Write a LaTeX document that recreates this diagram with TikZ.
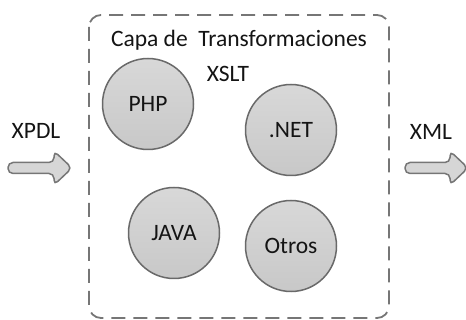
\documentclass[tikz,border=0pt]{standalone}
\usepackage{fontspec}
\setmainfont{Carlito}
\usetikzlibrary{positioning}
\definecolor{linegray}{RGB}{118,118,118}
\definecolor{circline}{RGB}{105,105,105}
\definecolor{circtop}{RGB}{216,216,216}
\definecolor{circbot}{RGB}{200,200,200}
\definecolor{arrowfill}{RGB}{214,214,214}
\definecolor{txt}{RGB}{20,20,20}
\begin{document}
\begin{tikzpicture}[x=1pt, y=-1pt,
        every node/.style={font=\fontsize{23.5}{28}\selectfont, text=txt},
        lang/.style={circle, draw=circline, line width=1.5pt, top color=circtop, bottom color=circbot, minimum size=91pt, inner sep=0pt},
        layer/.style={draw=linegray, line width=1.8pt, dash pattern=on 14pt off 8pt, rounded corners=12pt},
        blockarrow/.style={draw=linegray, line width=1.5pt, fill=arrowfill, rounded corners=5pt}]
    \useasboundingbox (0,0) rectangle (466,320);
    % capa de transformaciones
    \draw[layer] (89,15) rectangle (389,318);
    \node[anchor=base] (title) at (239,47) {Capa de~ Transformaciones};
    \node[anchor=base] (xslt) at (228,82) {XSLT};
    % lenguajes
    \node[lang] (php) at (148,104) {PHP};
    \node[lang] (net) at (291,130) {.NET};
    \node[lang] (java) at (174,233) {JAVA};
    \node[lang] (otros) at (291,246) {Otros};
    % entrada y salida
    \node (xpdl) at (36,131) {XPDL};
    \node (xml) at (431,132) {XML};
    \coordinate (in) at (8,168);
    \coordinate (out) at (405,168);
    \draw[blockarrow] (in) ++(0,-5.5) -- ++(46,0) -- ++(0,-11.5) -- ++(18,17) -- ++(-18,17) -- ++(0,-11.5) -- ++(-46,0) -- cycle;
    \draw[blockarrow] (out) ++(0,-5.5) -- ++(45,0) -- ++(0,-11.5) -- ++(18,17) -- ++(-18,17) -- ++(0,-11.5) -- ++(-45,0) -- cycle;
\end{tikzpicture}
\end{document}
